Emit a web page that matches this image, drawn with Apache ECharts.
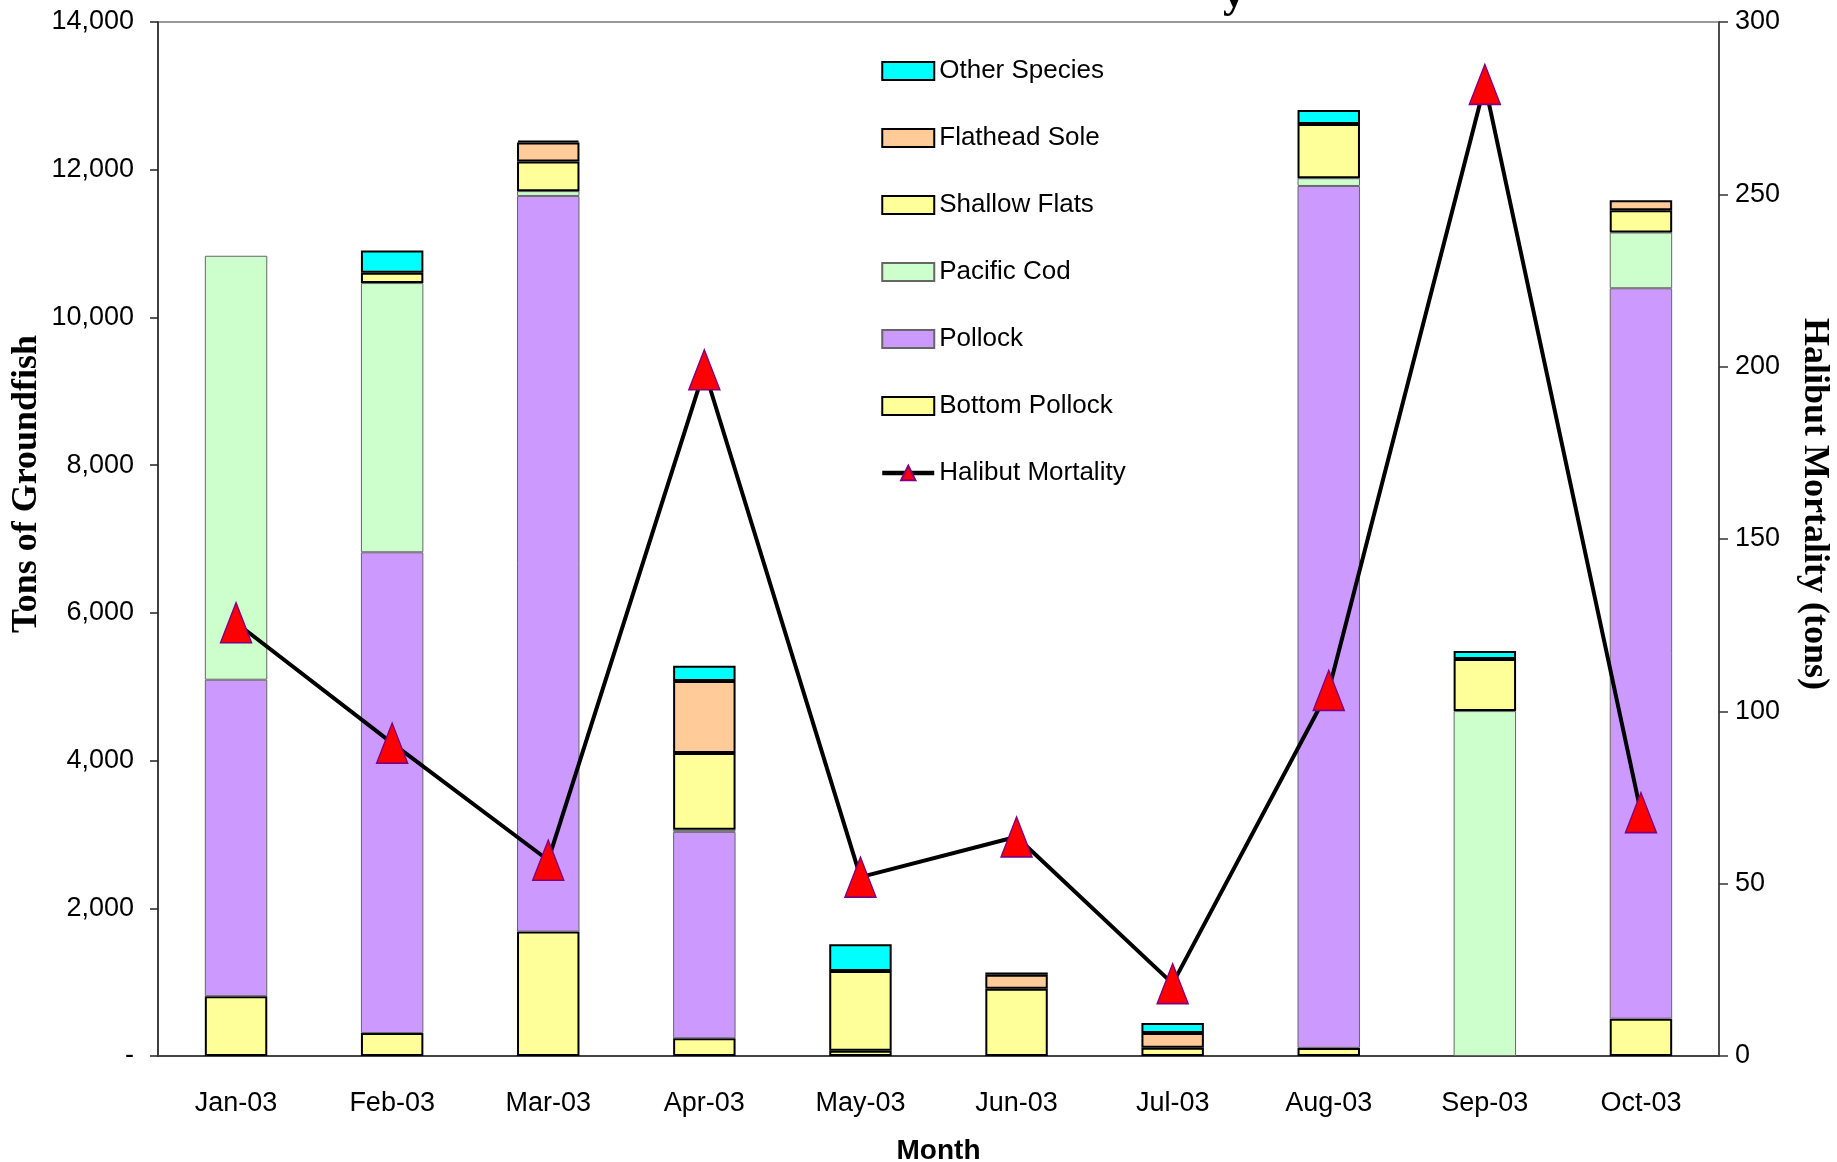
<!DOCTYPE html>
<html>
<head>
<meta charset="utf-8">
<script src="https://cdn.jsdelivr.net/npm/echarts@6/dist/echarts.min.js"></script>
<style>
html,body{margin:0;padding:0;background:#fff;}
#chart{width:1837px;height:1162px;}
</style>
</head>
<body>
<div id="chart"></div>
<script>
var months = ['Jan-03','Feb-03','Mar-03','Apr-03','May-03','Jun-03','Jul-03','Aug-03','Sep-03','Oct-03'];
var bottomPollock = [810, 310, 1685, 240, 70, null, null, 110, null, 505];
var pollock       = [4285, 6510, 9960, 2795, null, null, null, 11670, null, 9890];
var pacificCod    = [5740, 3645, 65, 27, null, null, null, 105, 4670, 755];
var shallowFlats  = [null, 140, 400, 1040, 1080, 910, 112, 735, 705, 300];
var flatheadSole  = [null, null, 260, 975, null, 190, 200, null, null, 135];
var otherSpecies  = [null, 300, 25, 208, 362, 30, 135, 190, 108, null];
var halibutMortality = [125.7, 90.8, 56.8, 199.1, 51.9, 63.6, 21.0, 106.1, 281.9, 70.6];
var leftTicks = {min: 0, max: 14000, interval: 2000};
var rightTicks = {min: 0, max: 300, interval: 50};

var SANS = "'Liberation Sans Narrow', 'Arial Narrow', 'Liberation Sans', Arial, sans-serif";
var SERIF = "'Liberation Serif', 'Times New Roman', serif";

function barSeries(name, data, color, border, bw) {
  return {
    name: name, type: 'bar', stack: 'total', data: data, barWidth: '40%',
    itemStyle: {color: color, borderColor: border, borderWidth: bw},
    emphasis: {disabled: true}
  };
}

var chart = echarts.init(document.getElementById('chart'), null, {renderer: 'canvas'});
chart.setOption({
  animation: false,
  backgroundColor: '#ffffff',
  grid: {left: 158, right: 118, top: 22, bottom: 106, containLabel: false, outerBoundsMode: 'none',
    show: true, borderColor: '#999', borderWidth: 2, backgroundColor: 'transparent'},
  legend: {
    orient: 'vertical', left: 875, top: 51,
    itemWidth: 52, itemHeight: 18, itemGap: 37,
    selectedMode: false,
    textStyle: {fontFamily: SANS, fontSize: 26, lineHeight: 30, color: '#000'},
    data: [
      {name: 'Other Species', icon: 'rect'},
      {name: 'Flathead Sole', icon: 'rect'},
      {name: 'Shallow Flats', icon: 'rect'},
      {name: 'Pacific Cod', icon: 'rect'},
      {name: 'Pollock', icon: 'rect'},
      {name: 'Bottom Pollock', icon: 'rect'},
      {name: 'Halibut Mortality', lineStyle: {width: 4.5}}
    ]
  },
  xAxis: {
    type: 'category', data: months, boundaryGap: true,
    axisLine: {lineStyle: {color: '#444', width: 2}},
    axisTick: {length: 9, lineStyle: {color: '#444', width: 1.5}},
    axisLabel: {fontFamily: SANS, fontSize: 27, color: '#000', margin: 34},
    name: 'Month', nameLocation: 'middle', nameGap: 81,
    nameTextStyle: {fontFamily: SANS, fontSize: 28, fontWeight: 'bold', color: '#000'}
  },
  yAxis: [{
    type: 'value', min: leftTicks.min, max: leftTicks.max, interval: leftTicks.interval,
    axisLine: {show: true, lineStyle: {color: '#222', width: 1.5}},
    axisTick: {show: true, length: 8, lineStyle: {color: '#222', width: 1.5}},
    splitLine: {show: false},
    axisLabel: {fontFamily: SANS, fontSize: 27, color: '#000', margin: 24,
      formatter: function (v) { return v === 0 ? '-' : v.toLocaleString('en-US'); }}
  }, {
    type: 'value', min: rightTicks.min, max: rightTicks.max, interval: rightTicks.interval,
    position: 'right',
    axisLine: {show: true, lineStyle: {color: '#333', width: 1.5}},
    axisTick: {show: true, length: 9, lineStyle: {color: '#333', width: 1.5}},
    splitLine: {show: false},
    axisLabel: {fontFamily: SANS, fontSize: 27, color: '#000', margin: 16}
  }],
  graphic: [
    {type: 'text', x: 27, y: 484, rotation: Math.PI / 2,
      style: {text: 'Tons of Groundfish', font: 'bold 36px ' + SERIF, fill: '#000', align: 'center', verticalAlign: 'middle'}},
    {type: 'text', x: 1814, y: 504, rotation: -Math.PI / 2,
      style: {text: 'Halibut Mortality (tons)', font: 'bold 36px ' + SERIF, fill: '#000', align: 'center', verticalAlign: 'middle'}},
    {type: 'text', x: 1234, y: 18,
      style: {text: 'y', font: 'bold 44px ' + SERIF, fill: '#000', align: 'center', verticalAlign: 'bottom'}}
  ],
  series: [
    barSeries('Bottom Pollock', bottomPollock, '#FFFF99', '#000', 2),
    barSeries('Pollock', pollock, '#CC99FF', '#666', 1),
    barSeries('Pacific Cod', pacificCod, '#CCFFCC', '#666', 1),
    barSeries('Shallow Flats', shallowFlats, '#FFFF99', '#000', 2),
    barSeries('Flathead Sole', flatheadSole, '#FFCC99', '#000', 2),
    barSeries('Other Species', otherSpecies, '#00FFFF', '#000', 2),
    {
      name: 'Halibut Mortality', type: 'line', yAxisIndex: 1, data: halibutMortality,
      z: 10,
      symbol: 'triangle', symbolSize: [31, 40],
      lineStyle: {color: '#000', width: 4},
      itemStyle: {color: '#FF0000', borderColor: '#800080', borderWidth: 1.5},
      emphasis: {disabled: true}
    }
  ]
});
</script>
</body>
</html>
